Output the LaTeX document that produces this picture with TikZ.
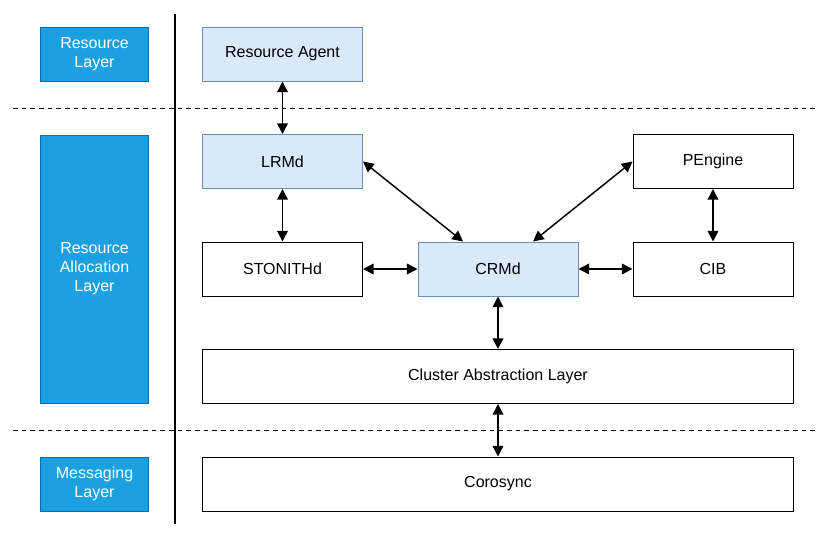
\documentclass[tikz,border=0pt]{standalone}
\usepackage{fontspec}
\setmainfont{Liberation Sans}
\usetikzlibrary{arrows.meta}
\definecolor{layerblue}{HTML}{1BA1E2}
\definecolor{layeredge}{HTML}{006EAF}
\definecolor{corefill}{HTML}{DAE8FC}
\definecolor{coreedge}{HTML}{6C8EBF}

\begin{document}
\begin{tikzpicture}[x=0.75pt, y=-0.75pt,
  layer/.style={draw=layeredge, fill=layerblue, text=white, line width=0.75pt, minimum width=81pt, minimum height=40.5pt, align=center, font=\fontsize{12}{14.2}\selectfont},
  unit/.style={draw, line width=0.75pt, minimum width=120pt, minimum height=40.5pt, font=\fontsize{12}{14}\selectfont},
  core/.style={unit, draw=coreedge, fill=corefill},
  link/.style={{Triangle[length=8pt,width=8pt]}-{Triangle[length=8pt,width=8pt]}, line width=1.1pt},
  sep/.style={dashed, dash pattern=on 3.5pt off 3pt, line width=0.75pt}]
\useasboundingbox (0,0) rectangle (836,540);

% layers on the left
\node (reslayer) [layer] at (94.5,54) {Resource\\Layer};
\node (alloclayer) [layer, minimum height=201pt] at (94.5,269) {Resource\\Allocation\\Layer};
\node (msglayer) [layer] at (94.5,484) {Messaging\\Layer};

\draw[line width=0.9pt] (175,14) -- (175,524);
\draw[sep] (13,108) -- (817,108);
\draw[sep] (13,430) -- (817,430);

% daemons
\node (agent) [core] at (282.5,54) {Resource Agent};
\node (lrmd) [core] at (282.5,161.5) {LRMd};
\node (stonith) [unit] at (282.5,269) {STONITHd};
\node (crmd) [core] at (498,269) {CRMd};
\node (pengine) [unit] at (713,161.5) {PEngine};
\node (cib) [unit] at (713,269) {CIB};
\node (cal) [unit, minimum width=443.25pt] at (498,376.5) {Cluster Abstraction Layer};
\node (corosync) [unit, minimum width=443.25pt] at (498,484) {Corosync};

\draw[link] (agent) -- (lrmd);
\draw[link] (lrmd) -- (stonith);
\draw[link] (lrmd.east) -- ([xshift=-26.25pt]crmd.north);
\draw[link] (pengine.west) -- ([xshift=26.25pt]crmd.north);
\draw[link] (pengine) -- (cib);
\draw[link] (stonith) -- (crmd);
\draw[link] (crmd) -- (cib);
\draw[link] (crmd) -- (crmd |- cal.north);
\draw[link] (cal) -- (corosync);
\end{tikzpicture}
\end{document}
